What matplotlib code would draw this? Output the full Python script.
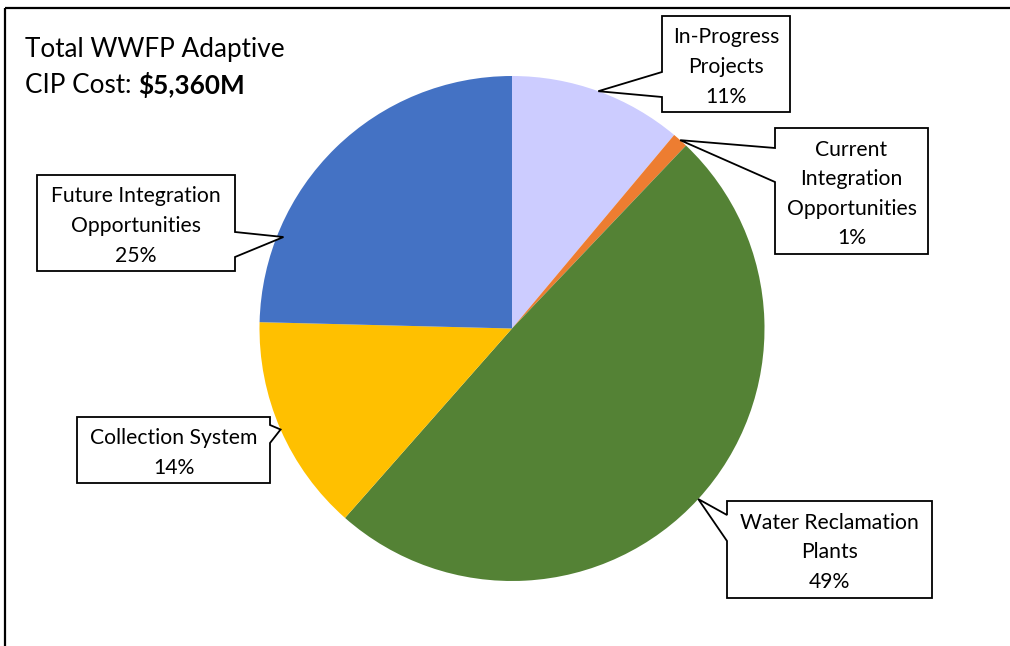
import matplotlib
matplotlib.use("Agg")
import matplotlib.pyplot as plt
from matplotlib.patches import Polygon
import numpy as np

# ---- data ----
categories = ["In-Progress\nProjects",
              "Current\nIntegration\nOpportunities",
              "Water Reclamation\nPlants",
              "Collection System",
              "Future Integration\nOpportunities"]
shares = [11.1, 1.0, 49.4, 13.9, 24.6]          # percent of total
colors = ["#CCCCFF", "#ED7D31", "#548235", "#FFC000", "#4472C4"]
title_line1 = "Total WWFP Adaptive"
title_line2 = "CIP Cost: "
title_value = "$5,360M"

FONT = "Lato"

W, H = 1010, 646
fig = plt.figure(figsize=(W / 100, H / 100), dpi=100)
ax = fig.add_axes([0, 0, 1, 1])

def Y(y):  # image pixel row -> data y
    return H - y

cx, cy, R = 512, Y(328.5), 252.5
wedges, _ = ax.pie(shares, colors=colors, startangle=90, counterclock=False,
                   center=(cx, cy), radius=R,
                   wedgeprops=dict(linewidth=0))
ax.set_xlim(0, W)
ax.set_ylim(0, H)
ax.set_aspect("auto")
ax.axis("off")

# outer frame (top and left edges visible)
ax.plot([5, W + 5], [Y(8), Y(8)], color="black", lw=1.6, solid_capstyle="butt", clip_on=False)
ax.plot([5, 5], [Y(8), -5], color="black", lw=1.6, solid_capstyle="butt", clip_on=False)

# ---- title ----
TS = 18.8
ax.text(25, Y(57), title_line1, fontsize=TS, family=FONT, va="baseline", ha="left")
t2 = ax.text(25, Y(93), title_line2, fontsize=TS, family=FONT, va="baseline", ha="left")
ax.annotate(title_value.replace("$", r"\$"), xy=(1, 0), xycoords=t2, fontsize=TS,
            family=FONT, fontweight="bold", va="bottom", ha="left")

# ---- callouts ----
# box (x0, x1, y0, y1) in image px, side of pointer, pointer base (b0, b1), tip fraction in wedge, tip radius factor
layout = [
    ((662, 790, 16, 112), "left", (72, 97), 0.5, 1.0),
    ((775, 928, 128, 254), "left", (148, 182), 0.5, 1.0),
    ((727, 932, 501, 598), "left", (515, 541), 0.5, 1.0),
    ((77, 270, 417, 483), "right", (425, 443), 0.5, 1.0),
    ((37, 235, 175, 271), "right", (232, 257), 0.23, 0.975),
]

total = sum(shares)
cum = np.concatenate([[0], np.cumsum(shares)])
for i, (cat, share) in enumerate(zip(categories, shares)):
    (x0, x1, y0, y1), side, (b0, b1), f, rf = layout[i]
    a_start = 90 - 360 * cum[i] / total
    a_end = 90 - 360 * cum[i + 1] / total
    ang = np.deg2rad(a_start + f * (a_end - a_start))
    tip = (cx + rf * R * np.cos(ang), cy + rf * R * np.sin(ang))
    if side == "left":
        pts = [(x0, Y(y0)), (x1, Y(y0)), (x1, Y(y1)), (x0, Y(y1)),
               (x0, Y(b1)), tip, (x0, Y(b0))]
    else:
        pts = [(x0, Y(y0)), (x1, Y(y0)), (x1, Y(b0)), tip,
               (x1, Y(b1)), (x1, Y(y1)), (x0, Y(y1))]
    poly = Polygon(pts, closed=True, facecolor="white", edgecolor="black",
                   lw=1.3, joinstyle="miter", zorder=5)
    ax.add_patch(poly)
    label = f"{cat}\n{share / total * 100:.0f}%"
    ax.text((x0 + x1) / 2, Y((y0 + y1) / 2 + 3), label, ha="center", va="center",
            fontsize=15.2, family=FONT, linespacing=1.6, zorder=6)

fig.savefig("out.png", dpi=100)
